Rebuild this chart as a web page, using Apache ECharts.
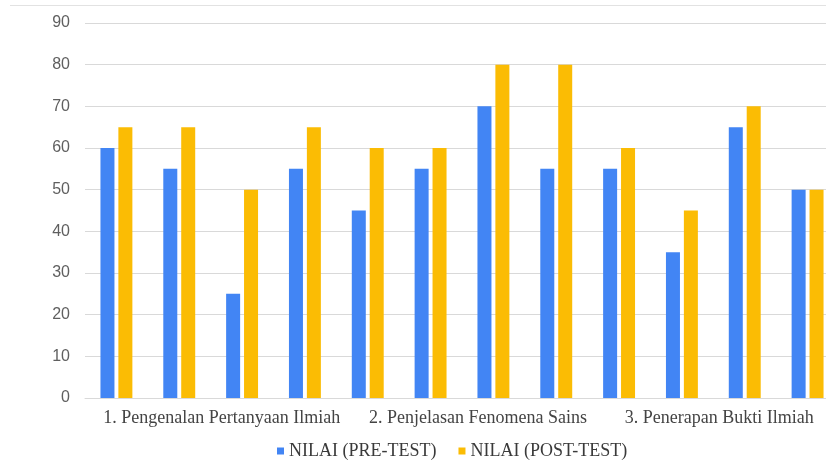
<!DOCTYPE html>
<html>
<head>
<meta charset="utf-8">
<script src="https://cdn.jsdelivr.net/npm/echarts@6/dist/echarts.min.js"></script>
<style>html,body{margin:0;padding:0;background:#fff;overflow:hidden;}#c{width:840px;height:460px;}</style>
</head>
<body>
<div id="c"></div>
<script>
var categories = ['S1','S2','S3','S4','S5','S6','S7','S8','S9','S10','S11','S12'];
var groups = ['1. Pengenalan Pertanyaan Ilmiah', '2. Penjelasan Fenomena Sains', '3. Penerapan Bukti Ilmiah'];
var preTest = [60, 55, 25, 55, 45, 55, 70, 55, 55, 35, 65, 50];
var postTest = [65, 65, 50, 65, 60, 60, 80, 80, 60, 45, 70, 50];
var seriesNames = ['NILAI (PRE-TEST)', 'NILAI (POST-TEST)'];

var serif = "'Liberation Serif', 'Times New Roman', serif";
var chart = echarts.init(document.getElementById('c'));
chart.setOption({
  animation: false,
  backgroundColor: '#fff',
  graphic: [{
    type: 'line', shape: {x1: 10, y1: 5.5, x2: 840, y2: 5.5},
    style: {stroke: '#e2e2e2', lineWidth: 1}
  }],
  grid: {left: 85, top: 23, right: 1, bottom: 62, containLabel: false},
  legend: {
    data: seriesNames, left: 277, top: 442, padding: 0, icon: 'rect', itemWidth: 7, itemHeight: 7, itemGap: 22,
    textStyle: {fontFamily: serif, fontSize: 18, color: '#3a3a3a'}
  },
  xAxis: [{
    type: 'category', data: categories, position: 'bottom',
    axisLine: {show: true, lineStyle: {color: '#d9d9d9'}}, axisTick: {show: false}, axisLabel: {show: false}
  }, {
    type: 'category', data: groups.map(function(g, i){ return {value: g, textStyle: {padding: [0, 0, 0, [22, 32, 12][i]]}}; }),
    position: 'bottom', axisLine: {show: false}, axisTick: {show: false}, splitLine: {show: false},
    axisLabel: {margin: 11, interval: 0, fontFamily: serif, fontSize: 18, color: '#444'}
  }],
  yAxis: {
    type: 'value', min: 0, max: 90, interval: 10,
    axisLine: {show: false}, axisTick: {show: false},
    splitLine: {lineStyle: {color: '#d9d9d9'}},
    axisLabel: {margin: 15, fontFamily: 'Liberation Sans', fontSize: 16, color: '#5f5f5f'}
  },
  series: [{
    name: seriesNames[0], type: 'bar', data: preTest, barWidth: 14, barGap: '28%',
    itemStyle: {color: '#4285F4'}
  }, {
    name: seriesNames[1], type: 'bar', data: postTest, barWidth: 14, barGap: '28%',
    itemStyle: {color: '#FBBC04'}
  }]
});
</script>
</body>
</html>
